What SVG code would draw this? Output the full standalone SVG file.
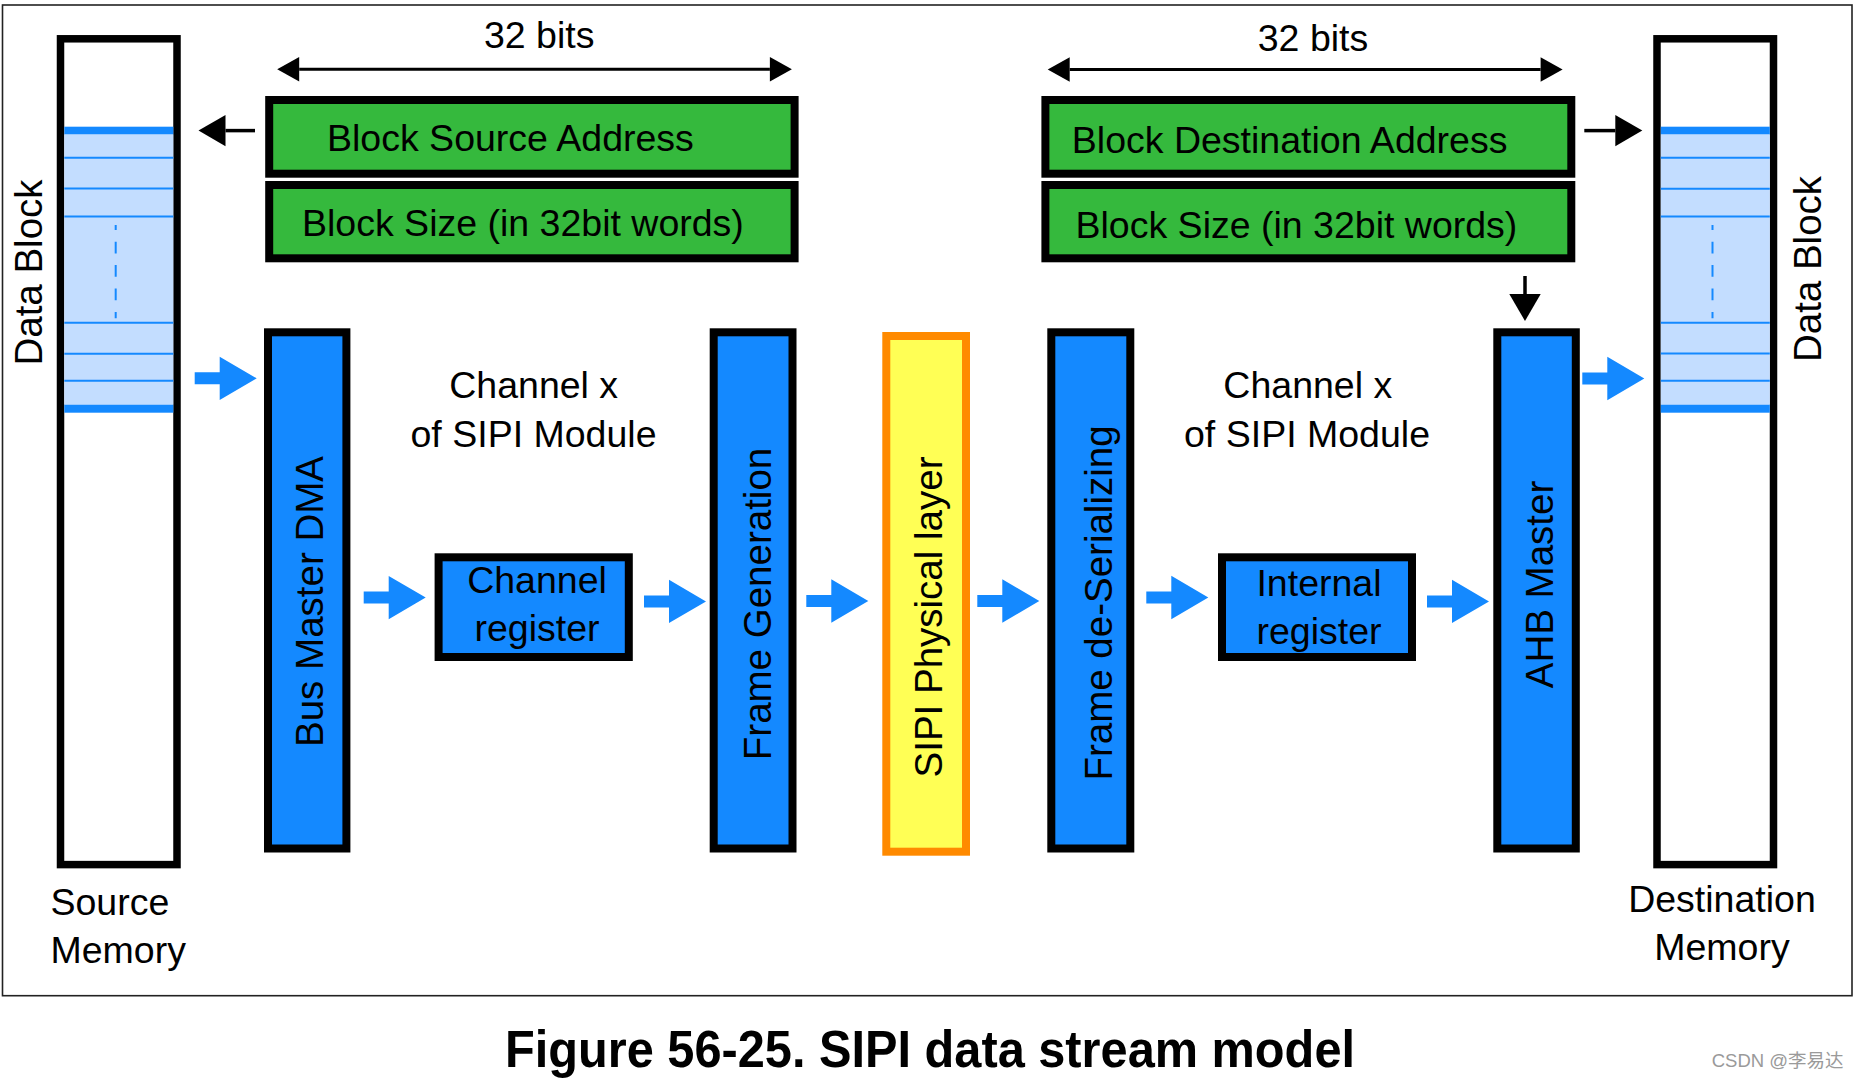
<svg xmlns="http://www.w3.org/2000/svg" xmlns:xlink="http://www.w3.org/1999/xlink" width="1857" height="1078" viewBox="0 0 1857 1078">
<style>
  text { font-family: "Liberation Sans", Arial, sans-serif; fill: #000; }
  .h { font-size: 37.5px; }
  .c { text-anchor: middle; }
  .v { font-size: 38.5px; text-anchor: middle; }
  .frame { fill: #fff; stroke: #222; stroke-width: 1.6; }
  .mem { fill: #fff; stroke: #000; stroke-width: 7.5; }
  .rows { fill: #c3ddff; }
  .thick { fill: #1489ff; }
  .thin { stroke: #1489ff; stroke-width: 2; }
  .dash { stroke: #1489ff; stroke-width: 2; stroke-dasharray: 11.7 11.7; stroke-dashoffset: 6.7; }
  .green { fill: #35b93d; stroke: #000; stroke-width: 8; }
  .blue { fill: #1489ff; stroke: #000; stroke-width: 8; }
  .phy { fill: #ffff55; stroke: #ff8a00; stroke-width: 8; }
  .bl { stroke: #000; stroke-width: 3.5; fill: none; }
  .dim { stroke: #000; stroke-width: 3; fill: none; }
  .barrow { fill: #1489ff; }
</style>
<defs>
  <marker id="ah" markerUnits="userSpaceOnUse" markerWidth="28" markerHeight="32" refX="0" refY="15.7" orient="auto" overflow="visible">
    <path d="M0,0 L27,15.7 L0,31.4 Z" fill="#000"/>
  </marker>
  <marker id="dh" markerUnits="userSpaceOnUse" markerWidth="23" markerHeight="25" refX="0" refY="12.3" orient="auto-start-reverse" overflow="visible">
    <path d="M0,0 L22,12.3 L0,24.6 Z" fill="#000"/>
  </marker>
  <path id="blueArrow" class="barrow" d="M-62,-6 H-37 V-21.65 L0,0 L-37,21.65 V6 H-62 Z"/>
</defs>

<rect class="frame" x="2.5" y="5" width="1849.5" height="990.7"/>

<g id="source-memory">
  <rect class="mem" x="60.5" y="38.8" width="116.5" height="825.8"/>
  <rect class="rows" x="64.3" y="134.3" width="109" height="270.4"/>
  <rect class="thick" x="64.3" y="126.7" width="109" height="7.6"/>
  <rect class="thick" x="64.3" y="404.7" width="109" height="8"/>
  <g class="thin">
    <line x1="64.3" x2="173.3" y1="157.7" y2="157.7"/>
    <line x1="64.3" x2="173.3" y1="188.5" y2="188.5"/>
    <line x1="64.3" x2="173.3" y1="216.5" y2="216.5"/>
    <line x1="64.3" x2="173.3" y1="322.7" y2="322.7"/>
    <line x1="64.3" x2="173.3" y1="353.7" y2="353.7"/>
    <line x1="64.3" x2="173.3" y1="380.8" y2="380.8"/>
  </g>
  <line class="dash" x1="115.7" y1="225" x2="115.7" y2="318.3"/>
  <text class="v" transform="translate(42,272.5) rotate(-90)">Data Block</text>
  <text class="h" x="50.5" y="915">Source</text>
  <text class="h" x="50.5" y="963">Memory</text>
</g>

<g id="destination-memory">
  <rect class="mem" x="1657" y="38.8" width="116.5" height="825.8"/>
  <rect class="rows" x="1660.8" y="134.3" width="109" height="270.4"/>
  <rect class="thick" x="1660.8" y="126.7" width="109" height="7.6"/>
  <rect class="thick" x="1660.8" y="404.7" width="109" height="8"/>
  <g class="thin">
    <line x1="1660.8" x2="1769.8" y1="157.7" y2="157.7"/>
    <line x1="1660.8" x2="1769.8" y1="188.8" y2="188.8"/>
    <line x1="1660.8" x2="1769.8" y1="216.6" y2="216.6"/>
    <line x1="1660.8" x2="1769.8" y1="322.7" y2="322.7"/>
    <line x1="1660.8" x2="1769.8" y1="353.5" y2="353.5"/>
    <line x1="1660.8" x2="1769.8" y1="380.8" y2="380.8"/>
  </g>
  <line class="dash" x1="1712.5" y1="225" x2="1712.5" y2="318.3"/>
  <text class="v" transform="translate(1820.5,269) rotate(-90)">Data Block</text>
  <text class="h c" x="1722" y="912.3">Destination</text>
  <text class="h c" x="1722" y="960">Memory</text>
</g>

<g id="block-source-address">
  <rect class="green" x="269.2" y="100" width="525.4" height="73.7"/>
  <text class="h" x="327" y="150.7">Block Source Address</text>
</g>
<g id="block-size-src">
  <rect class="green" x="269.2" y="185" width="525.4" height="73.3"/>
  <text class="h" x="302" y="235.7">Block Size (in 32bit words)</text>
</g>
<g id="block-destination-address">
  <rect class="green" x="1045.4" y="100" width="525.9" height="73.7"/>
  <text class="h" x="1071.8" y="152.5">Block Destination Address</text>
</g>
<g id="block-size-dst">
  <rect class="green" x="1045.4" y="185" width="525.9" height="73.3"/>
  <text class="h" x="1075.5" y="238">Block Size (in 32bit words)</text>
</g>

<g id="label-32bits-src">
  <text class="h c" x="539.2" y="48.3">32 bits</text>
</g>
<g id="label-32bits-dst">
  <text class="h c" x="1313" y="50.7">32 bits</text>
</g>

<g id="bus-master-dma">
  <rect class="blue" x="268" y="332.3" width="78.4" height="516.2"/>
  <text class="v" transform="translate(322.7,601.5) rotate(-90)">Bus Master DMA</text>
</g>
<g id="channel-label-left">
  <text class="h c" x="533.7" y="397.7">Channel x</text>
  <text class="h c" x="533.5" y="446.5">of SIPI Module</text>
</g>
<g id="channel-register">
  <rect class="blue" x="438.6" y="557.3" width="190.2" height="99.7"/>
  <text class="h c" x="537" y="593">Channel</text>
  <text class="h c" x="537" y="641.4">register</text>
</g>
<g id="frame-generation">
  <rect class="blue" x="713.7" y="332.3" width="78.8" height="516.2"/>
  <text class="v" transform="translate(771.4,604) rotate(-90)">Frame Generation</text>
</g>
<g id="sipi-physical-layer">
  <rect class="phy" x="886.3" y="336" width="79.7" height="515.7"/>
  <text class="v" transform="translate(942.4,617) rotate(-90)">SIPI Physical layer</text>
</g>
<g id="frame-de-serializing">
  <rect class="blue" x="1051.3" y="332.3" width="79" height="516.2"/>
  <text class="v" transform="translate(1112,603) rotate(-90)">Frame de-Serializing</text>
</g>
<g id="channel-label-right">
  <text class="h c" x="1307.8" y="397.7">Channel x</text>
  <text class="h c" x="1307" y="446.5">of SIPI Module</text>
</g>
<g id="internal-register">
  <rect class="blue" x="1222" y="557.3" width="190" height="99.7"/>
  <text class="h c" x="1319" y="596.2">Internal</text>
  <text class="h c" x="1319" y="644.2">register</text>
</g>
<g id="ahb-master">
  <rect class="blue" x="1497.3" y="332.3" width="78.5" height="516.2"/>
  <text class="v" transform="translate(1552.8,584.5) rotate(-90)">AHB Master</text>
</g>

<g id="connectors">
  <line class="dim" x1="299.2" y1="69.3" x2="769.9" y2="69.3" marker-start="url(#dh)" marker-end="url(#dh)"/>
  <line class="dim" x1="1069.7" y1="69.5" x2="1540.6" y2="69.5" marker-start="url(#dh)" marker-end="url(#dh)"/>
  <line class="bl" x1="255" y1="130.6" x2="225.5" y2="130.6" marker-end="url(#ah)"/>
  <line class="bl" x1="1584.3" y1="130.6" x2="1615.3" y2="130.6" marker-end="url(#ah)"/>
  <line class="bl" x1="1525" y1="276" x2="1525" y2="294" marker-end="url(#ah)"/>
  <use href="#blueArrow" xlink:href="#blueArrow" x="256.7" y="378.3"/>
  <use href="#blueArrow" xlink:href="#blueArrow" x="425.7" y="597.6"/>
  <use href="#blueArrow" xlink:href="#blueArrow" x="706" y="601.4"/>
  <use href="#blueArrow" xlink:href="#blueArrow" x="868.3" y="601"/>
  <use href="#blueArrow" xlink:href="#blueArrow" x="1039.3" y="601"/>
  <use href="#blueArrow" xlink:href="#blueArrow" x="1208.3" y="597.5"/>
  <use href="#blueArrow" xlink:href="#blueArrow" x="1489" y="601.4"/>
  <use href="#blueArrow" xlink:href="#blueArrow" x="1644.3" y="378.5"/>
</g>

<g id="caption">
  <text x="505" y="1066.5" font-size="52" font-weight="bold" textLength="850" lengthAdjust="spacingAndGlyphs">Figure 56-25. SIPI data stream model</text>
</g>
<g id="watermark">
  <text x="1711.7" y="1066.5" font-size="18.5" style="fill:#9a9a9a;font-family:'Liberation Sans','Noto Sans CJK SC',sans-serif">CSDN @李易达</text>
</g>
</svg>
